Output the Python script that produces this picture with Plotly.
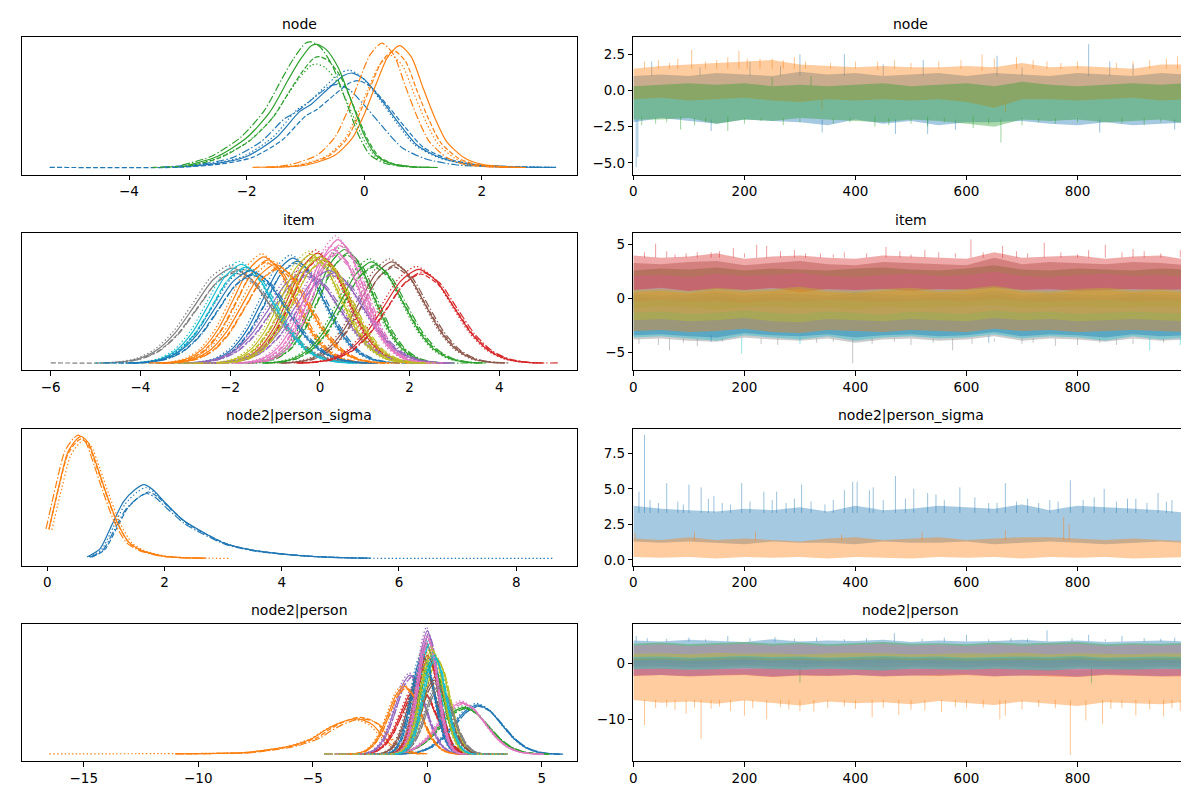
import plotly.graph_objects as go

# tab10 colours used by the chart
BLUE, ORANGE, GREEN, RED, PURPLE = '#1f77b4', '#ff7f0e', '#2ca02c', '#d62728', '#9467bd'
BROWN, PINK, GRAY, OLIVE, CYAN = '#8c564b', '#e377c2', '#7f7f7f', '#bcbd22', '#17becf'

titles = ['node', 'item', 'node2|person_sigma', 'node2|person']

# ---------------- density panels (left column) ----------------
# node: solid-chain curve of each variable
node_colors = [BLUE, ORANGE, GREEN]
node_kde_x = [
    [-3.2, -2.5, -2.0, -1.5, -1.1, -0.9, -0.6, -0.35, -0.2, 0.0, 0.3, 0.6, 0.9, 1.3, 1.8, 2.5, 3.2],
    [-1.6, -1.0, -0.5, -0.2, 0.0, 0.2, 0.4, 0.6, 0.8, 1.0, 1.2, 1.4, 1.7, 2.0, 2.5, 2.75],
    [-3.0, -2.5, -2.0, -1.6, -1.3, -1.1, -0.9, -0.8, -0.65, -0.45, -0.2, 0.0, 0.2, 0.45, 0.8, 1.2],
]
node_kde_h = [
    [0.005, 0.035, 0.09, 0.24, 0.45, 0.51, 0.64, 0.74, 0.76, 0.71, 0.54, 0.35, 0.18, 0.08, 0.027, 0.008, 0.003],
    [0.003, 0.02, 0.10, 0.24, 0.43, 0.67, 0.89, 0.98, 0.89, 0.64, 0.40, 0.21, 0.08, 0.027, 0.005, 0.002],
    [0.02, 0.09, 0.24, 0.45, 0.70, 0.86, 0.98, 0.99, 0.95, 0.81, 0.51, 0.26, 0.10, 0.035, 0.008, 0.002],
]
node_chain_shift = [[0, 0.1, -0.05, -0.25], [0, -0.1, -0.15, -0.3], [0, 0.05, 0.0, -0.1]]
node_chain_scale = [[1.0, 0.92, 1.03, 0.88], [1.0, 0.96, 0.92, 1.02], [1.0, 0.9, 0.84, 1.02]]
node_tail_lo = [-5.35, -1.8, -3.6]
node_tail_hi = [None, None, None]
node_tail_chain = [1, 3, 1]

# node2|person_sigma
sigma_colors = [BLUE, ORANGE]
sigma_kde_x = [
    [0.68, 0.9, 1.1, 1.3, 1.5, 1.65, 1.8, 2.0, 2.3, 2.6, 3.0, 3.5, 4.0, 4.5, 5.0, 5.45],
    [0.03, 0.2, 0.35, 0.5, 0.58, 0.7, 0.85, 1.0, 1.2, 1.4, 1.6, 1.8, 2.0, 2.3, 2.7],
]
sigma_kde_h = [
    [0.015, 0.08, 0.27, 0.46, 0.56, 0.60, 0.56, 0.46, 0.32, 0.23, 0.13, 0.07, 0.04, 0.02, 0.01, 0.005],
    [0.24, 0.59, 0.86, 0.965, 0.99, 0.94, 0.75, 0.54, 0.29, 0.13, 0.07, 0.04, 0.02, 0.01, 0.005],
]
sigma_chain_shift = [[0, 0.08, 0.03, 0.05], [0, 0.0, 0.05, -0.05]]
sigma_chain_scale = [[1.0, 0.9, 0.96, 0.88], [1.0, 0.98, 0.97, 1.01]]
sigma_tail_lo = [None, None]
sigma_tail_hi = [8.65, 3.1]
sigma_tail_chain = [2, 2]

# typical near-normal KDE shape (offsets in sd units)
shape_offsets = [-3.5, -3, -2.5, -2, -1.5, -1, -0.5, 0, 0.5, 1, 1.5, 2, 2.5, 3, 3.5]
shape_heights = [0.003, 0.012, 0.045, 0.135, 0.32, 0.6, 0.88, 1.0, 0.88, 0.6, 0.32, 0.135, 0.045, 0.012, 0.003]

# item: one row per item
item_colors = [BLUE, ORANGE, GREEN, RED, PURPLE, BROWN, PINK, GRAY, OLIVE, CYAN,
               BLUE, ORANGE, GREEN, RED, PURPLE, PINK, OLIVE]
item_center = [-0.6, -1.25, 0.55, -0.05, -0.35, 1.6, 0.4, -1.95, -0.2, -1.75,
               -1.55, -1.0, 1.15, 2.2, 0.2, 0.3, 0.0]
item_peak = [0.85, 0.86, 0.92, 0.89, 0.74, 0.82, 1.0, 0.77, 0.88, 0.8,
             0.75, 0.8, 0.82, 0.76, 0.75, 0.92, 0.86]
item_sd = [0.68, 0.68, 0.63, 0.65, 0.78, 0.72, 0.58, 0.85, 0.66, 0.72,
           0.78, 0.72, 0.7, 0.78, 0.76, 0.62, 0.66]
item_lo = [-4.0, -4.3, -2.2, -3.0, -3.5, -1.2, -2.2, -6.0, -3.3, -5.0,
           -4.8, -3.8, -1.6, -0.5, -2.6, -2.3, -2.8]
item_hi = [2.3, 1.8, 3.5, 2.8, 2.6, 3.9, 2.9, 1.5, 2.5, 1.0,
           1.3, 2.0, 3.7, 5.3, 3.0, 2.8, 2.6]
item_tail_chain = [1, 2, 3, 0, 1, 2, 3, 1, 0, 2, 1, 3, 2, 3, 0, 1, 2]
item_chain_shift = [0.0, 0.05, -0.05, 0.08]
item_chain_scale = [1.0, 0.95, 1.03, 0.97]

# node2|person: one row per person (the skewed orange one is kept apart below)
person_colors = [BLUE, GREEN, RED, PURPLE, BROWN, PINK, GRAY, OLIVE, CYAN,
                 BLUE, ORANGE, GREEN, RED, PURPLE, BROWN, PINK, GRAY, OLIVE, CYAN]
person_center = [2.2, 1.6, -0.4, -0.75, -0.2, 1.5, -0.05, 0.4, 0.05,
                 -0.2, -1.0, 0.15, 0.0, 0.0, 0.3, 0.0, 0.5, 0.2, 0.3]
person_peak = [0.40, 0.38, 0.55, 0.64, 0.70, 0.42, 0.90, 0.78, 0.92,
               0.80, 0.55, 0.75, 0.80, 1.0, 0.60, 0.95, 0.55, 0.85, 0.80]
person_sd = [1.05, 1.05, 0.75, 0.65, 0.6, 1.0, 0.47, 0.55, 0.45,
             0.5, 0.7, 0.55, 0.5, 0.42, 0.6, 0.44, 0.6, 0.5, 0.5]
person_lo = [-0.5, -1.0, -3.5, -4.0, -3.5, -1.5, -3.0, -3.5, -3.0,
             -4.5, -4.5, -3.0, -3.0, -4.5, -2.5, -3.0, -2.5, -4.5, -3.0]
person_hi = [5.8, 5.0, 2.5, 2.0, 2.5, 5.2, 3.0, 3.5, 3.0,
             3.0, 2.0, 3.5, 3.0, 3.5, 3.5, 3.0, 3.5, 3.5, 3.5]
person_tail_chain = [3, 1, 2, 0, 1, 3, 2, 0, 1, 3, 2, 1, 0, 3, 2, 1, 0, 3, 2]
person_chain_shift = [0.0, 0.05, -0.04, 0.06]
person_chain_scale = [1.0, 0.97, 1.03, 0.98]

orange_person_x = [-9.0, -8.0, -7.0, -6.0, -5.0, -4.5, -4.0, -3.5, -3.2, -2.8, -2.4, -2.0, -1.6, -1.2, -0.8, -0.3]
orange_person_h = [0.008, 0.013, 0.035, 0.067, 0.13, 0.19, 0.24, 0.275, 0.287, 0.276, 0.24, 0.16, 0.08, 0.035, 0.013, 0.003]
orange_person_shift = [0.0, 0.2, -0.1, 0.3]
orange_person_scale = [1.0, 1.04, 0.97, 1.0]
orange_person_lo = [-11.0, -10.5, -16.5, -11.0]

# ---------------- trace panels (right column) ----------------
# band edges read every 50 draws, plus single spikes (draw, from, to)
trace_iter = list(range(0, 1000, 50)) + [999]

node_tr_colors = [BLUE, ORANGE, GREEN]
node_tr_upper = [
    [1.0, 1.1, 1.0, 1.2, 1.1, 1.0, 1.3, 1.1, 1.2, 1.0, 1.1, 1.2, 1.0, 1.2, 1.1, 1.0, 1.2, 1.1, 1.0, 1.2, 1.1],
    [1.5, 1.7, 1.8, 1.9, 2.0, 2.1, 1.8, 1.7, 1.6, 1.7, 1.6, 1.6, 1.7, 1.6, 1.9, 1.6, 1.7, 1.6, 1.5, 1.8, 1.8],
    [0.3, 0.4, 0.5, 0.4, 0.5, 0.3, 0.4, 0.3, 0.4, 0.5, 0.3, 0.4, 0.5, 0.3, 0.6, 0.4, 0.3, 0.4, 0.5, 0.4, 0.5],
]
node_tr_lower = [
    [-2.2, -1.9, -2.1, -2.3, -2.0, -2.1, -2.2, -2.4, -2.0, -2.3, -2.1, -2.4, -2.2, -2.2, -2.1, -2.3, -2.4, -2.2, -2.4, -2.3, -2.2],
    [-0.6, -0.5, -0.7, -0.6, -0.5, -0.7, -0.8, -0.6, -0.7, -0.6, -0.7, -0.6, -0.8, -1.2, -0.6, -0.6, -0.7, -0.6, -0.5, -0.7, -0.6],
    [-2.0, -2.0, -1.9, -2.3, -2.0, -2.1, -1.9, -2.0, -2.1, -2.2, -2.0, -2.1, -2.3, -2.5, -2.0, -2.1, -2.0, -2.2, -2.1, -2.0, -2.3],
]
node_tr_spikes = [
    [(5, -2.0, -5.3), (8, -2.0, -4.6), (33, 1.0, 2.0), (210, 1.0, 2.0), (300, 1.0, 2.5), (380, 1.0, 2.5),
     (522, 1.0, 2.1), (655, 1.0, 2.4), (820, 1.0, 3.2), (858, 1.0, 2.0), (140, -2.0, -2.8), (340, -2.0, -2.9),
     (472, -2.0, -3.0), (530, -2.0, -3.0), (580, -2.0, -2.7), (840, -2.0, -2.9), (975, -2.0, -2.7),
     (120, 1.0, 1.6), (265, 1.0, 1.7), (450, 1.0, 1.8), (700, 1.0, 1.6), (900, 1.0, 1.8)],
    [(105, 1.5, 2.8), (190, 1.5, 2.75), (228, 1.5, 2.2), (250, 1.5, 2.2), (290, 1.5, 2.3), (440, 1.4, 2.0),
     (628, 1.4, 2.5), (690, 1.5, 2.3), (980, 1.5, 2.35), (340, -0.6, -1.3), (670, -0.8, -1.5),
     (20, 1.5, 2.0), (45, 1.5, 2.1), (65, 1.5, 1.9), (80, 1.5, 2.2), (130, 1.5, 2.0), (150, 1.5, 2.1),
     (170, 1.5, 2.3), (205, 1.5, 2.2), (270, 1.5, 2.1), (310, 1.5, 2.0), (355, 1.5, 1.9), (400, 1.5, 2.0),
     (470, 1.5, 2.1), (500, 1.5, 1.9), (550, 1.5, 2.0), (590, 1.5, 2.1), (650, 1.5, 2.2), (720, 1.5, 2.1),
     (745, 1.5, 2.0), (770, 1.5, 1.9), (800, 1.5, 2.0), (870, 1.5, 1.9), (900, 1.5, 2.0), (930, 1.5, 2.1),
     (960, 1.5, 2.2)],
    [(15, -1.8, -2.4), (85, -1.8, -2.7), (170, -1.8, -2.8), (435, -1.8, -2.5), (530, -1.8, -2.5),
     (612, -1.8, -2.6), (662, -2.0, -3.6), (998, -1.8, -2.7), (250, 0.3, 0.9), (320, 0.3, 1.0),
     (40, -1.9, -2.3), (60, -1.9, -2.2), (110, -1.9, -2.4), (130, -1.9, -2.2), (200, -1.9, -2.3),
     (230, -1.9, -2.1), (270, -1.9, -2.4), (300, -1.9, -2.2), (360, -1.9, -2.3), (390, -1.9, -2.2),
     (460, -1.9, -2.4), (500, -1.9, -2.3), (560, -1.9, -2.2), (640, -1.9, -2.3), (700, -1.9, -2.4),
     (730, -1.9, -2.2), (760, -1.9, -2.3), (800, -1.9, -2.2), (880, -1.9, -2.3), (920, -1.9, -2.4),
     (950, -1.9, -2.2)],
]

item_tr_colors = [GRAY, CYAN, BLUE, GREEN, BROWN, PINK, RED, ORANGE, OLIVE]
item_tr_upper = [
    [0.1, -0.1, 0.0, 0.2, -0.1, 0.1, 0.0, -0.1, 0.2, 0.0, -0.1, 0.1, 0.0, 0.3, -0.1, 0.1, 0.0, -0.1, 0.1, 0.0, -0.1],
    [0.2, 0.0, 0.1, 0.3, 0.0, 0.2, 0.1, 0.0, 0.3, 0.1, 0.0, 0.2, 0.1, 0.4, 0.0, 0.2, 0.1, 0.0, 0.2, 0.1, 0.0],
    [0.5, 0.3, 0.4, 0.6, 0.3, 0.5, 0.4, 0.3, 0.6, 0.4, 0.3, 0.5, 0.4, 0.7, 0.3, 0.5, 0.4, 0.3, 0.5, 0.4, 0.3],
    [2.6, 2.8, 2.7, 2.9, 2.6, 2.8, 2.7, 2.6, 2.8, 2.9, 2.7, 2.6, 2.8, 3.1, 2.7, 2.6, 2.8, 2.7, 2.6, 2.8, 2.7],
    [3.3, 3.2, 3.4, 3.5, 3.1, 3.3, 3.5, 3.2, 3.1, 3.4, 3.3, 3.2, 3.1, 3.8, 3.2, 3.4, 3.3, 3.2, 3.4, 3.3, 3.1],
    [2.1, 2.2, 2.0, 2.3, 2.1, 2.2, 2.4, 2.1, 2.0, 2.2, 2.3, 2.1, 2.2, 2.5, 2.1, 2.0, 2.2, 2.3, 2.1, 2.2, 2.0],
    [4.0, 3.8, 3.9, 4.2, 3.7, 3.9, 4.0, 3.8, 3.7, 4.0, 3.9, 3.8, 3.7, 4.3, 3.8, 3.9, 4.0, 3.7, 3.9, 4.0, 3.6],
    [0.6, 0.7, 0.5, 0.8, 0.6, 0.7, 0.9, 0.6, 0.5, 0.7, 0.8, 0.6, 0.7, 1.0, 0.6, 0.5, 0.7, 0.8, 0.6, 0.7, 0.5],
    [0.8, 0.9, 0.7, 1.0, 0.8, 0.9, 1.1, 0.8, 0.7, 0.9, 1.0, 0.8, 0.9, 1.2, 0.8, 0.7, 0.9, 1.0, 0.8, 0.9, 0.7],
]
item_tr_lower = [
    [-3.8, -3.7, -3.9, -4.0, -3.6, -3.8, -3.9, -3.7, -4.1, -3.8, -3.7, -3.9, -3.8, -3.5, -3.9, -3.7, -3.8, -4.0, -3.7, -3.9, -3.8],
    [-3.6, -3.5, -3.7, -3.9, -3.4, -3.6, -3.8, -3.5, -3.9, -3.6, -3.5, -3.7, -3.6, -3.3, -3.7, -3.5, -3.6, -3.9, -3.5, -3.8, -3.6],
    [-3.4, -3.3, -3.5, -3.6, -3.2, -3.4, -3.5, -3.3, -3.6, -3.4, -3.3, -3.5, -3.4, -3.1, -3.5, -3.3, -3.4, -3.6, -3.3, -3.5, -3.4],
    [-0.9, -0.7, -0.8, -1.0, -0.8, -0.7, -0.9, -0.8, -1.0, -0.7, -0.9, -0.8, -0.7, -0.6, -0.9, -0.8, -0.7, -0.9, -0.8, -0.7, -0.9],
    [-0.3, -0.1, -0.3, -0.2, -0.4, -0.2, -0.3, -0.1, -0.2, -0.3, -0.2, -0.1, -0.3, 0.0, -0.2, -0.3, -0.2, -0.1, -0.3, -0.2, -0.2],
    [-1.3, -1.2, -1.4, -1.3, -1.1, -1.3, -1.4, -1.2, -1.3, -1.5, -1.2, -1.3, -1.4, -1.1, -1.3, -1.2, -1.4, -1.3, -1.2, -1.3, -1.4],
    [0.8, 1.0, 0.7, 0.9, 0.8, 1.0, 0.6, 0.9, 0.8, 0.9, 0.7, 0.9, 0.8, 1.0, 0.8, 0.9, 0.7, 0.8, 0.9, 0.8, 0.9],
    [-3.0, -2.9, -3.1, -3.0, -2.8, -3.1, -3.2, -2.9, -3.0, -3.1, -2.9, -3.0, -3.1, -2.8, -3.0, -2.9, -3.1, -3.0, -2.9, -3.0, -3.1],
    [-2.0, -1.9, -2.1, -2.0, -1.8, -2.1, -2.2, -1.9, -2.0, -2.1, -1.9, -2.0, -2.1, -1.8, -2.0, -1.9, -2.1, -2.0, -1.9, -2.0, -2.1],
]
item_tr_spikes = [
    [(45, -3.7, -4.3), (65, -3.7, -4.8), (395, -3.7, -6.0), (500, -3.7, -4.3), (575, -3.7, -4.8),
     (760, -3.7, -4.4), (870, -3.7, -4.3), (10, -3.7, -4.2), (90, -3.7, -4.1), (115, -3.7, -4.4),
     (160, -3.7, -4.0), (230, -3.7, -4.2), (260, -3.7, -4.3), (330, -3.7, -4.1), (360, -3.7, -4.0),
     (430, -3.7, -4.2), (470, -3.7, -4.0), (540, -3.7, -4.1), (610, -3.7, -4.2), (650, -3.7, -4.0),
     (700, -3.7, -4.2), (720, -3.7, -4.1), (800, -3.7, -4.3), (840, -3.7, -4.1), (900, -3.7, -4.2),
     (955, -3.7, -4.1)],
    [(195, -3.6, -5.1), (300, -3.6, -4.2), (930, -3.6, -4.8), (985, -3.6, -4.3)],
    [(140, -3.4, -4.0), (640, -3.4, -4.1)],
    [], [], [],
    [(40, 3.8, 5.1), (115, 3.8, 4.3), (180, 3.8, 4.7), (222, 3.8, 5.0), (240, 3.8, 4.9), (290, 3.8, 4.5),
     (337, 3.8, 4.2), (455, 3.8, 4.8), (525, 3.8, 4.5), (608, 3.8, 5.5), (665, 3.8, 4.9), (740, 3.8, 5.2),
     (850, 3.8, 5.0), (900, 3.8, 4.6), (985, 3.8, 4.5), (20, 3.8, 4.3), (60, 3.8, 4.4), (75, 3.8, 4.1),
     (95, 3.8, 4.2), (140, 3.8, 4.3), (155, 3.8, 4.4), (200, 3.8, 4.2), (265, 3.8, 4.4), (310, 3.8, 4.2),
     (360, 3.8, 4.1), (380, 3.8, 4.3), (420, 3.8, 4.2), (480, 3.8, 4.4), (500, 3.8, 4.1), (550, 3.8, 4.3),
     (580, 3.8, 4.2), (630, 3.8, 4.3), (690, 3.8, 4.4), (710, 3.8, 4.2), (770, 3.8, 4.3), (800, 3.8, 4.1),
     (820, 3.8, 4.5), (880, 3.8, 4.3), (920, 3.8, 4.4), (950, 3.8, 4.2)],
    [],
    [],
]

sigma_tr_colors = [BLUE, ORANGE]
sigma_tr_upper = [
    [3.8, 3.6, 3.5, 3.4, 3.6, 3.5, 3.7, 3.4, 3.8, 3.5, 3.6, 3.8, 3.7, 3.6, 3.9, 3.5, 3.8, 3.7, 3.6, 3.5, 3.3],
    [1.5, 1.4, 1.6, 1.4, 1.5, 1.4, 1.3, 1.5, 1.6, 1.4, 1.5, 1.6, 1.4, 1.5, 1.6, 1.6, 1.5, 1.4, 1.5, 1.4, 1.3],
]
sigma_tr_lower = [
    [1.3, 1.2, 1.3, 1.2, 1.1, 1.3, 1.2, 1.2, 1.1, 1.3, 1.2, 1.2, 1.3, 1.1, 1.2, 1.3, 1.2, 1.1, 1.2, 1.3, 1.2],
    [0.2, 0.15, 0.2, 0.1, 0.2, 0.15, 0.2, 0.1, 0.2, 0.15, 0.1, 0.2, 0.15, 0.2, 0.1, 0.2, 0.15, 0.2, 0.1, 0.15, 0.2],
]
sigma_tr_spikes = [
    [(10, 3.3, 4.8), (20, 3.3, 8.8), (60, 3.3, 5.4), (100, 3.3, 5.3), (122, 3.3, 5.1), (145, 3.3, 4.5),
     (195, 3.3, 5.4), (210, 3.3, 4.1), (235, 3.3, 4.8), (258, 3.3, 4.8), (303, 3.3, 5.3), (380, 3.3, 4.9),
     (395, 3.3, 5.5), (403, 3.3, 5.5), (425, 3.3, 4.9), (432, 3.3, 5.1), (472, 3.3, 5.9), (505, 3.3, 5.0),
     (530, 3.3, 4.7), (588, 3.3, 5.1), (640, 3.3, 4.0), (670, 3.3, 5.4), (750, 3.3, 4.2), (787, 3.3, 5.6),
     (848, 3.3, 5.0), (905, 3.3, 4.3), (945, 3.3, 4.7), (970, 3.3, 4.2), (30, 3.3, 4.2), (45, 3.3, 4.0),
     (80, 3.3, 4.1), (90, 3.3, 3.9), (135, 3.3, 4.3), (160, 3.3, 4.0), (175, 3.3, 3.9), (250, 3.3, 4.2),
     (275, 3.3, 4.0), (290, 3.3, 4.3), (320, 3.3, 4.1), (345, 3.3, 3.9), (360, 3.3, 4.2), (450, 3.3, 4.2),
     (490, 3.3, 4.3), (545, 3.3, 4.6), (560, 3.3, 4.2), (615, 3.3, 4.4), (655, 3.3, 4.0), (690, 3.3, 4.1),
     (710, 3.3, 4.3), (730, 3.3, 4.0), (765, 3.3, 4.1), (810, 3.3, 4.2), (830, 3.3, 4.4), (870, 3.3, 4.1),
     (890, 3.3, 4.3), (925, 3.3, 4.0), (960, 3.3, 4.1), (990, 3.3, 3.8)],
    [(3, 1.4, 1.9), (110, 1.4, 2.0), (220, 1.4, 2.0), (375, 1.4, 1.8), (520, 1.4, 2.0), (670, 1.4, 2.1),
     (775, 1.4, 3.0), (785, 1.4, 2.5)],
]

person_tr_colors = [BLUE, ORANGE, GREEN, PINK, RED, OLIVE, PURPLE, CYAN]
person_tr_upper = [
    [4.2, 4.0, 4.3, 4.1, 3.9, 4.4, 4.0, 4.2, 4.1, 4.3, 3.9, 4.2, 4.0, 4.1, 4.3, 4.0, 4.2, 3.9, 4.1, 4.2, 4.0],
    [-1.0, -0.8, -1.1, -0.9, -1.0, -0.8, -1.1, -0.9, -1.0, -0.8, -1.0, -0.9, -1.1, -0.8, -1.0, -0.9, -1.1, -1.0, -0.8, -1.0, -0.9],
    [3.6, 3.8, 3.5, 3.7, 3.9, 3.6, 3.8, 3.5, 3.7, 3.9, 3.6, 3.7, 3.5, 3.8, 3.6, 3.7, 3.9, 3.5, 3.7, 3.6, 3.8],
    [3.3, 3.5, 3.2, 3.4, 3.6, 3.3, 3.5, 3.2, 3.4, 3.6, 3.3, 3.4, 3.2, 3.5, 3.3, 3.4, 3.6, 3.2, 3.4, 3.3, 3.5],
    [1.0, 1.1, 0.9, 1.0, 1.2, 1.0, 1.1, 0.9, 1.0, 1.2, 1.0, 1.1, 0.9, 1.0, 1.1, 1.0, 1.2, 0.9, 1.0, 1.1, 1.0],
    [1.8, 1.9, 1.7, 2.0, 1.8, 1.9, 1.7, 1.8, 2.0, 1.9, 1.7, 1.8, 1.9, 1.8, 2.0, 1.7, 1.9, 1.8, 1.7, 1.9, 1.8],
    [0.6, 0.7, 0.5, 0.6, 0.8, 0.6, 0.7, 0.5, 0.6, 0.8, 0.6, 0.7, 0.5, 0.6, 0.7, 0.6, 0.8, 0.5, 0.6, 0.7, 0.6],
    [1.2, 1.3, 1.1, 1.2, 1.4, 1.2, 1.3, 1.1, 1.2, 1.4, 1.2, 1.3, 1.1, 1.2, 1.3, 1.2, 1.4, 1.1, 1.2, 1.3, 1.2],
]
person_tr_lower = [
    [0.0, 0.2, -0.1, 0.1, 0.0, 0.2, -0.1, 0.1, 0.0, 0.2, 0.1, 0.0, 0.2, -0.1, 0.1, 0.0, 0.2, 0.1, 0.0, 0.1, 0.2],
    [-6.5, -7.0, -6.8, -7.2, -6.6, -7.0, -7.5, -6.8, -7.1, -6.9, -7.3, -6.7, -7.0, -7.4, -6.8, -7.2, -7.6, -6.9, -7.1, -7.3, -6.8],
    [-0.6, -0.5, -0.7, -0.6, -0.4, -0.6, -0.7, -0.5, -0.6, -0.8, -0.5, -0.6, -0.7, -0.5, -0.6, -0.8, -0.5, -0.6, -0.7, -0.5, -0.6],
    [-0.4, -0.3, -0.5, -0.4, -0.2, -0.4, -0.5, -0.3, -0.4, -0.6, -0.3, -0.4, -0.5, -0.3, -0.4, -0.6, -0.3, -0.4, -0.5, -0.3, -0.4],
    [-2.2, -2.0, -2.3, -2.1, -2.0, -2.4, -2.1, -2.2, -2.0, -2.3, -2.1, -2.2, -2.0, -2.3, -2.1, -2.2, -2.4, -2.0, -2.1, -2.3, -2.2],
    [-1.0, -0.9, -1.1, -1.0, -0.8, -1.0, -1.1, -0.9, -1.0, -1.2, -0.9, -1.0, -1.1, -0.9, -1.0, -1.2, -0.9, -1.0, -1.1, -0.9, -1.0],
    [-2.1, -2.0, -2.2, -2.1, -1.9, -2.3, -2.0, -2.1, -2.0, -2.2, -2.1, -2.0, -1.9, -2.2, -2.1, -2.0, -2.3, -1.9, -2.0, -2.2, -2.1],
    [-1.0, -0.9, -1.1, -1.0, -0.8, -1.0, -1.1, -0.9, -1.0, -1.2, -0.9, -1.0, -1.1, -0.9, -1.0, -1.2, -0.9, -1.0, -1.1, -0.9, -1.0],
]
person_tr_spikes = [
    [(5, 4.0, 5.0), (170, 4.0, 5.0), (255, 4.0, 4.8), (470, 4.0, 5.5), (600, 4.0, 5.2), (745, 4.0, 6.0),
     (820, 4.0, 5.2), (880, 4.0, 5.0), (975, 4.0, 4.7), (25, 4.0, 4.6), (60, 4.0, 4.5), (100, 4.0, 4.7),
     (130, 4.0, 4.4), (210, 4.0, 4.6), (290, 4.0, 4.5), (330, 4.0, 4.7), (380, 4.0, 4.4), (420, 4.0, 4.6),
     (520, 4.0, 4.5), (560, 4.0, 4.7), (640, 4.0, 4.4), (680, 4.0, 4.6), (710, 4.0, 4.5), (790, 4.0, 4.6),
     (850, 4.0, 4.4), (920, 4.0, 4.6), (950, 4.0, 4.5)],
    [(20, -6.5, -11.0), (95, -6.5, -9.0), (122, -6.5, -13.5), (175, -6.5, -8.5), (200, -6.5, -9.3),
     (240, -6.5, -10.0), (300, -6.5, -8.5), (325, -6.5, -8.6), (430, -6.5, -9.6), (478, -6.5, -9.2),
     (525, -6.5, -8.4), (555, -6.5, -8.7), (660, -6.5, -10.0), (670, -6.5, -9.3), (787, -6.5, -16.4),
     (815, -6.5, -10.2), (845, -6.5, -10.8), (905, -6.5, -9.3), (955, -6.5, -9.5), (985, -6.5, -8.5),
     (40, -6.5, -8.0), (60, -6.5, -7.8), (75, -6.5, -8.3), (110, -6.5, -7.9), (140, -6.5, -8.1),
     (155, -6.5, -7.7), (215, -6.5, -8.0), (265, -6.5, -7.8), (280, -6.5, -8.2), (350, -6.5, -8.0),
     (380, -6.5, -7.7), (400, -6.5, -8.1), (450, -6.5, -7.9), (500, -6.5, -8.3), (580, -6.5, -7.8),
     (600, -6.5, -8.0), (630, -6.5, -7.9), (700, -6.5, -8.2), (730, -6.5, -7.8), (760, -6.5, -8.0),
     (860, -6.5, -8.1), (880, -6.5, -7.9), (930, -6.5, -8.2), (970, -6.5, -8.0)],
    [(300, -0.6, -3.4), (825, -0.6, -3.5)],
    [], [], [], [], [],
]

# ---------------- figure ----------------
W, H = 1189, 789
COL_X = [(10, 566.5), (623.5, 1180)]
ROW_Y = [(29, 167), (226, 363), (422, 559), (618, 755)]
DASHES = ['solid', '5px,2.2px', '1.4px,2.3px', '8px,2.2px,1.4px,2.2px']
TAIL_H = 0.003
BAND_ALPHA = 0.4
SPIKE_ALPHA = 0.45

left_ranges = [[-5.82, 3.61], [-6.64, 5.72], [-0.43, 9.03], [-17.7, 6.52]]
left_ticks = [[-4, -2, 0, 2], [-6, -4, -2, 0, 2, 4], [0, 2, 4, 6, 8], [-15, -10, -5, 0, 5]]
right_ranges = [[-5.81, 3.70], [-6.63, 6.05], [-0.40, 9.21], [-17.5, 7.07]]
right_ticks = [[-5, -2.5, 0, 2.5], [-5, 0, 5], [0, 2.5, 5, 7.5], [-10, 0]]
right_fmt = ['.1f', 'd', '.1f', 'd']


def rgba(hex_color, a):
    h = hex_color.lstrip('#')
    return f'rgba({int(h[0:2], 16)},{int(h[2:4], 16)},{int(h[4:6], 16)},{a})'


fig = go.Figure()


def add_kde(n, xs, hs, color, shifts, scales, lo=None, hi=None, tail_chain=None):
    # lo / hi may be a single value (for tail_chain) or one value per chain
    for c in range(4):
        x = [v + shifts[c] for v in xs]
        y = [v * scales[c] for v in hs]
        c_lo = lo[c] if isinstance(lo, list) else (lo if c == tail_chain else None)
        c_hi = hi[c] if isinstance(hi, list) else (hi if c == tail_chain else None)
        if c_lo is not None and c_lo < x[0]:
            x = [c_lo] + x
            y = [TAIL_H] + y
        if c_hi is not None and c_hi > x[-1]:
            x = x + [c_hi]
            y = y + [TAIL_H]
        fig.add_trace(go.Scatter(
            x=x, y=y, mode='lines', hoverinfo='skip',
            line=dict(color=color, width=1.2, dash=DASHES[c], shape='spline', smoothing=0.7),
            xaxis=f'x{n}', yaxis=f'y{n}'))


def add_trace_bands(n, colors, uppers, lowers, spikes):
    for color, up, lo, sp in zip(colors, uppers, lowers, spikes):
        fig.add_trace(go.Scatter(
            x=trace_iter + trace_iter[::-1], y=up + lo[::-1],
            mode='lines', fill='toself', fillcolor=rgba(color, BAND_ALPHA),
            line=dict(width=0, color=rgba(color, BAND_ALPHA)), hoverinfo='skip',
            xaxis=f'x{n}', yaxis=f'y{n}'))
        if sp:
            sx, sy = [], []
            for i, a, b in sp:
                sx += [i, i, None]
                sy += [a, b, None]
            fig.add_trace(go.Scatter(
                x=sx, y=sy, mode='lines', hoverinfo='skip',
                line=dict(color=rgba(color, SPIKE_ALPHA), width=1),
                xaxis=f'x{n}', yaxis=f'y{n}'))


# row 1: node
for k, color in enumerate(node_colors):
    add_kde(1, node_kde_x[k], node_kde_h[k], color, node_chain_shift[k], node_chain_scale[k],
            node_tail_lo[k], node_tail_hi[k], node_tail_chain[k])
add_trace_bands(2, node_tr_colors, node_tr_upper, node_tr_lower, node_tr_spikes)

# row 2: item
for k, color in enumerate(item_colors):
    xs = [item_center[k] + item_sd[k] * o for o in shape_offsets]
    hs = [item_peak[k] * s for s in shape_heights]
    add_kde(3, xs, hs, color, item_chain_shift, item_chain_scale,
            item_lo[k], item_hi[k], item_tail_chain[k])
add_trace_bands(4, item_tr_colors, item_tr_upper, item_tr_lower, item_tr_spikes)

# row 3: node2|person_sigma
for k, color in enumerate(sigma_colors):
    add_kde(5, sigma_kde_x[k], sigma_kde_h[k], color, sigma_chain_shift[k], sigma_chain_scale[k],
            sigma_tail_lo[k], sigma_tail_hi[k], sigma_tail_chain[k])
add_trace_bands(6, sigma_tr_colors, sigma_tr_upper, sigma_tr_lower, sigma_tr_spikes)

# row 4: node2|person
for k, color in enumerate(person_colors):
    xs = [person_center[k] + person_sd[k] * o for o in shape_offsets]
    hs = [person_peak[k] * s for s in shape_heights]
    add_kde(7, xs, hs, color, person_chain_shift, person_chain_scale,
            person_lo[k], person_hi[k], person_tail_chain[k])
    if k == 0:
        add_kde(7, orange_person_x, orange_person_h, ORANGE, orange_person_shift,
                orange_person_scale, orange_person_lo, None)
add_trace_bands(8, person_tr_colors, person_tr_upper, person_tr_lower, person_tr_spikes)

font = dict(family='DejaVu Sans', size=13.5, color='black')
axis_common = dict(showline=True, mirror=True, linecolor='black', linewidth=1,
                   showgrid=False, zeroline=False, tickfont=font)
layout = dict(width=W, height=H, margin=dict(l=0, r=0, t=0, b=0),
              paper_bgcolor='white', plot_bgcolor='white', showlegend=False,
              font=font, annotations=[])

for r in range(4):
    y0, y1 = ROW_Y[r]
    ydom = [1 - y1 / H, 1 - y0 / H]
    for c in range(2):
        n = 2 * r + c + 1
        x0, x1 = COL_X[c]
        xdom = [x0 / W, x1 / W]
        if c == 0:
            xa = dict(axis_common, domain=xdom, anchor=f'y{n}', range=left_ranges[r],
                      tickvals=left_ticks[r], ticks='outside', ticklen=4.5, tickwidth=1, tickcolor='black')
            ya = dict(axis_common, domain=ydom, anchor=f'x{n}', range=[-0.055, 1.05],
                      showticklabels=False, ticks='')
        else:
            xa = dict(axis_common, domain=xdom, anchor=f'y{n}', range=[0, 999],
                      tickvals=[0, 200, 400, 600, 800], ticks='outside', ticklen=4.5,
                      tickwidth=1, tickcolor='black')
            ya = dict(axis_common, domain=ydom, anchor=f'x{n}', range=right_ranges[r],
                      tickvals=right_ticks[r], tickformat=right_fmt[r], ticks='outside',
                      ticklen=4.5, tickwidth=1, tickcolor='black')
        layout[f'xaxis{n}'] = xa
        layout[f'yaxis{n}'] = ya
        layout['annotations'].append(dict(
            text=titles[r], x=(xdom[0] + xdom[1]) / 2, y=ydom[1], xref='paper', yref='paper',
            xanchor='center', yanchor='bottom', yshift=3, showarrow=False,
            font=dict(family='DejaVu Sans', size=14, color='black')))

fig.update_layout(**layout)
fig.write_html('out.html')
